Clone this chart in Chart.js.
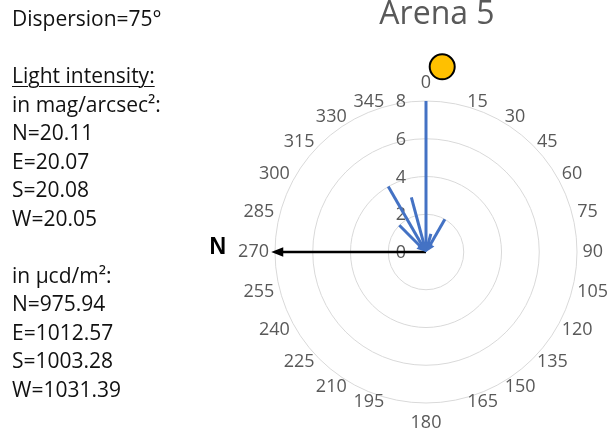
<!DOCTYPE html>
<html>
<head>
<meta charset="utf-8">
<script src="https://cdn.jsdelivr.net/npm/chart.js@4/dist/chart.umd.min.js"></script>
<style>
html,body{margin:0;padding:0;background:#fff;width:607px;height:432px;overflow:hidden;}
#wrap{position:relative;width:607px;height:432px;}
#c{position:absolute;left:0;top:0;}
#info{position:absolute;left:12px;top:4px;font-family:"Open Sans";font-size:21px;line-height:28.5px;color:#111;white-space:pre;}
#info u{text-decoration:underline;text-underline-offset:3px;text-decoration-thickness:1px;}
#title{position:absolute;left:337px;width:200px;text-align:center;top:-8px;font-family:"Open Sans";font-size:32px;line-height:40px;color:#595959;}
</style>
</head>
<body>
<div id="wrap">
  <canvas id="c" width="607" height="432"></canvas>
  <div id="title">Arena 5</div>
  <div id="info"></div>
</div>
<script>
// ---- data ----
const angleLabels = ['0','15','30','45','60','75','90','105','120','135','150','165','180','195','210','225','240','255','270','285','300','315','330','345'];
const tickValues = [0, 2, 4, 6, 8];
const vectorAngles = [0, 15, 30, 315, 330, 345];
const vectorLengths = [8, 1, 2, 2, 4, 3];
const northAngles = [270];
const northLengths = [8.2];
const northLabel = 'N';
const sunAngle = 5;
const sunValue = 9.85;
const dispersion = 75;
const directions = ['N', 'E', 'S', 'W'];
const magValues = ['20.11', '20.07', '20.08', '20.05'];
const cdValues = ['975.94', '1012.57', '1003.28', '1031.39'];

// ---- left text ----
(function(){
  let lines = [];
  lines.push('Dispersion=' + dispersion + '°');
  lines.push('');
  lines.push('<u>Light intensity:</u>');
  lines.push('in mag/arcsec²:');
  directions.forEach((d,i)=>lines.push(d + '=' + magValues[i]));
  lines.push('');
  lines.push('in µcd/m²:');
  directions.forEach((d,i)=>lines.push(d + '=' + cdValues[i]));
  document.getElementById('info').innerHTML = lines.join('\n');
})();

function toSeries(angles, values){
  return angleLabels.map(l => {
    const i = angles.indexOf(Number(l));
    return i >= 0 ? values[i] : null;
  });
}
const blueData = toSeries(vectorAngles, vectorLengths);
const northData = toSeries(northAngles, northLengths);

function arrowHead(ctx, fx, fy, tx, ty, len, hw, color){
  const a = Math.atan2(ty - fy, tx - fx);
  const bx = tx - len * Math.cos(a), by = ty - len * Math.sin(a);
  ctx.beginPath();
  ctx.moveTo(tx, ty);
  ctx.lineTo(bx + hw * Math.sin(a), by - hw * Math.cos(a));
  ctx.lineTo(bx - hw * Math.sin(a), by + hw * Math.cos(a));
  ctx.closePath();
  ctx.fillStyle = color;
  ctx.fill();
}

const LABEL_FONT = '18px "Open Sans"';
const LABEL_COLOR = '#595959';

const vectorPlugin = {
  id: 'vectors',
  beforeDatasetsDraw(chart){
    const s = chart.scales.r, ctx = chart.ctx;
    ctx.save();
    ctx.font = LABEL_FONT;
    ctx.fillStyle = LABEL_COLOR;
    // radial tick labels, left of the 0° axis
    ctx.textAlign = 'right';
    ctx.textBaseline = 'middle';
    tickValues.forEach(v => {
      const d = s.getDistanceFromCenterForValue(v);
      ctx.fillText(String(v), s.xCenter - 20, s.yCenter - d + 1);
    });
    // angle labels
    const R = s.drawingArea + 4.5;
    angleLabels.forEach((lab, i) => {
      const p = s.getPointPosition(i, R);
      const deg = Number(lab);
      if (deg === 0) {
        ctx.textAlign = 'center';
        ctx.fillText(lab, p.x, p.y - 14);
      } else if (deg === 180) {
        ctx.textAlign = 'center';
        ctx.fillText(lab, p.x, p.y + 15);
      } else if (deg < 180) {
        ctx.textAlign = 'left';
        ctx.fillText(lab, p.x + 1, p.y);
      } else {
        ctx.textAlign = 'right';
        ctx.fillText(lab, p.x - 1.5, p.y);
      }
    });
    ctx.restore();
  },
  afterDatasetsDraw(chart){
    const s = chart.scales.r, ctx = chart.ctx;
    const cx = s.xCenter, cy = s.yCenter;
    ctx.save();
    // north (black) arrow, head at tip
    const mN = chart.getDatasetMeta(1);
    mN.data.forEach((el, i) => {
      if (northData[i] == null) return;
      const a = Math.atan2(el.y - cy, el.x - cx);
      ctx.beginPath();
      ctx.moveTo(cx, cy);
      ctx.lineTo(el.x - 8 * Math.cos(a), el.y - 8 * Math.sin(a));
      ctx.strokeStyle = '#000';
      ctx.lineWidth = 2.5;
      ctx.stroke();
      arrowHead(ctx, cx, cy, el.x, el.y, 12, 4.8, '#000');
      ctx.font = 'bold 23px "Liberation Sans"';
      ctx.fillStyle = '#000';
      ctx.textAlign = 'right';
      ctx.textBaseline = 'alphabetic';
      ctx.fillText(northLabel, el.x - 45, el.y + 2);
    });
    // blue vectors, head at centre
    const mB = chart.getDatasetMeta(0);
    mB.data.forEach((el, i) => {
      if (blueData[i] == null) return;
      const a = Math.atan2(cy - el.y, cx - el.x);
      ctx.beginPath();
      ctx.moveTo(el.x, el.y);
      ctx.lineTo(cx - 5 * Math.cos(a), cy - 5 * Math.sin(a));
      ctx.strokeStyle = '#4472C4';
      ctx.lineWidth = 3;
      ctx.stroke();
      arrowHead(ctx, el.x, el.y, cx, cy, 9, 4.5, '#4472C4');
    });
    // sun
    const p = s.getPointPositionForValue(sunAngle / 15, sunValue);
    ctx.beginPath();
    ctx.arc(p.x, p.y, 12.5, 0, Math.PI * 2);
    ctx.fillStyle = '#FFC000';
    ctx.fill();
    ctx.lineWidth = 2;
    ctx.strokeStyle = '#000';
    ctx.stroke();
    ctx.restore();
  }
};

new Chart(document.getElementById('c'), {
  type: 'radar',
  data: {
    labels: angleLabels,
    datasets: [
      { label: 'vectors', data: blueData, showLine: false, fill: false, backgroundColor: 'rgba(0,0,0,0)', pointRadius: 0, pointHoverRadius: 0, borderColor: '#4472C4' },
      { label: 'north', data: northData, showLine: false, fill: false, backgroundColor: 'rgba(0,0,0,0)', pointRadius: 0, pointHoverRadius: 0, borderColor: '#000' }
    ]
  },
  options: {
    responsive: false,
    animation: false,
    layout: { padding: { left: 275, right: 30, top: 101, bottom: 29 } },
    plugins: { legend: { display: false }, tooltip: { enabled: false }, title: { display: false } },
    scales: {
      r: {
        min: 0, max: 8,
        ticks: { stepSize: 2, display: false },
        grid: { circular: true, color: '#d9d9d9', lineWidth: 1 },
        angleLines: { display: false },
        pointLabels: { display: false }
      }
    }
  },
  plugins: [vectorPlugin]
});
</script>
</body>
</html>
